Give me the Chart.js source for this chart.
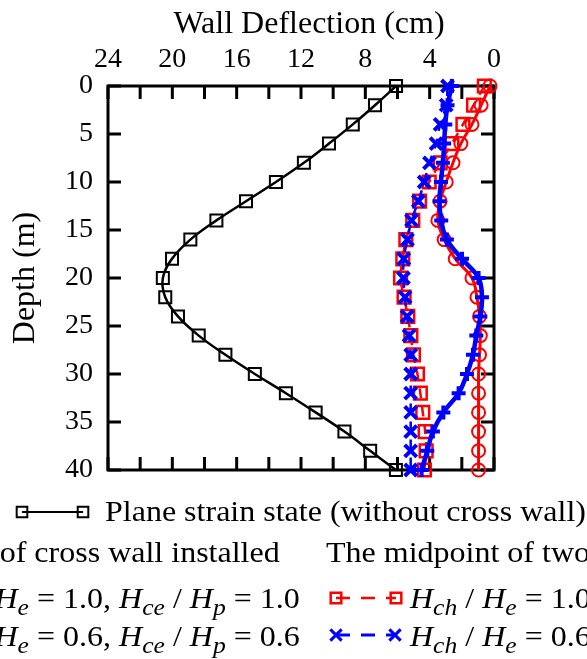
<!DOCTYPE html>
<html><head><meta charset="utf-8">
<script src="https://cdn.jsdelivr.net/npm/chart.js@4/dist/chart.umd.min.js"></script>
<style>
html,body{margin:0;padding:0;background:#fff;overflow:hidden;}
#wrap{position:relative;width:587px;height:659px;overflow:hidden;background:#fff;}
canvas{position:absolute;left:0;top:0;}
.leg{position:absolute;font-family:'Liberation Serif','Times New Roman',serif;font-size:30px;line-height:30px;white-space:nowrap;color:#000;transform:scaleX(1.067);transform-origin:left center;}
.leg.r{transform-origin:right center;}
.leg i{font-style:italic;}
.leg sub{font-size:0.8em;vertical-align:-0.3em;line-height:0;}
</style></head><body>
<div id="wrap">
<canvas id="c" width="587" height="659" style="width:587px;height:659px"></canvas>
<div class="leg" style="left:105px;top:496px;">Plane strain state (without cross wall)</div>
<div class="leg r" style="right:307px;top:537px;">The location of cross wall installed</div>
<div class="leg" style="left:326px;top:537px;">The midpoint of two cross walls</div>
<div class="leg r" style="right:287px;top:583px;"><i>H</i><sub><i>ch</i></sub> / <i>H</i><sub><i>e</i></sub> = 1.0, <i>H</i><sub><i>ce</i></sub> / <i>H</i><sub><i>p</i></sub> = 1.0</div>
<div class="leg" style="left:410px;top:583px;"><i>H</i><sub><i>ch</i></sub> / <i>H</i><sub><i>e</i></sub> = 1.0, <i>H</i><sub><i>ce</i></sub> / <i>H</i><sub><i>p</i></sub> = 1.0</div>
<div class="leg r" style="right:287px;top:621px;"><i>H</i><sub><i>ch</i></sub> / <i>H</i><sub><i>e</i></sub> = 0.6, <i>H</i><sub><i>ce</i></sub> / <i>H</i><sub><i>p</i></sub> = 0.6</div>
<div class="leg" style="left:410px;top:621px;"><i>H</i><sub><i>ch</i></sub> / <i>H</i><sub><i>e</i></sub> = 0.6, <i>H</i><sub><i>ce</i></sub> / <i>H</i><sub><i>p</i></sub> = 0.6</div>
</div>
<script>
// ---- data ----
const depth = [0,2,4,6,8,10,12,14,16,18,20,22,24,26,28,30,32,34,36,38,40];
const planeStrain = [6.09,7.4,8.78,10.26,11.82,13.56,15.42,17.26,18.88,20.02,20.59,20.44,19.65,18.36,16.70,14.87,12.94,11.09,9.3,7.7,6.1];
const locH10 = [0.25,0.8,1.37,2.06,2.55,2.97,3.35,3.49,3.1,2.41,1.37,1.06,0.9,0.85,0.9,0.96,0.96,0.96,0.96,0.96,0.96];
const locH06 = [2.62,2.89,3.03,3.1,3.18,3.3,3.39,3.28,2.93,1.99,0.96,0.75,0.85,1.1,1.31,1.68,2.2,3.15,3.8,4.15,4.5];
const midH10 = [0.6,1.27,1.93,2.62,3.35,4.03,4.63,5.05,5.48,5.67,5.81,5.59,5.36,5.17,5.01,4.76,4.58,4.43,4.28,4.22,4.33];
const midH06 = [2.89,2.97,3.35,3.6,4.01,4.34,4.7,5.13,5.38,5.61,5.63,5.53,5.4,5.28,5.18,5.18,5.18,5.18,5.18,5.18,5.18];
const xTickLabels = [0,4,8,12,16,20,24];
const yTickLabels = [0,5,10,15,20,25,30,35,40];
const xMinorTicks = [0,2,4,6,8,10,12,14,16,18,20,22,24];

const pts = arr => arr.map((v,i)=>({x:v, y:depth[i]}));
const FONT = "'Liberation Serif','Times New Roman',serif";
const TICK = 13;

const framePlugin = {
  id:'frame',
  beforeDatasetsDraw(chart){
    const {ctx, chartArea:a, scales:{x,y}} = chart;
    ctx.save();
    ctx.strokeStyle='#000'; ctx.lineWidth=3; ctx.lineCap='butt';
    ctx.strokeRect(a.left, a.top, a.right-a.left, a.bottom-a.top);
    ctx.beginPath();
    xMinorTicks.forEach(v=>{const p=x.getPixelForValue(v); ctx.moveTo(p,a.top); ctx.lineTo(p,a.top+TICK); ctx.moveTo(p,a.bottom); ctx.lineTo(p,a.bottom-TICK);});
    yTickLabels.forEach(v=>{const p=y.getPixelForValue(v); ctx.moveTo(a.left,p); ctx.lineTo(a.left+TICK,p); ctx.moveTo(a.right,p); ctx.lineTo(a.right-TICK,p);});
    ctx.stroke();
    ctx.restore();
  },
  afterDraw(chart){
    const ctx = chart.ctx;
    const sym = (x0,x1,yy,color,lw,dash,style,r,mlw)=>{
      ctx.save();
      ctx.strokeStyle=color; ctx.lineWidth=lw; ctx.setLineDash(dash);
      ctx.beginPath(); ctx.moveTo(x0,yy); ctx.lineTo(x1,yy); ctx.stroke();
      ctx.setLineDash([]);
      [x0,x1].forEach(px=>{
        Chart.helpers.drawPoint(ctx,{pointStyle:style,radius:r,borderWidth:mlw,rotation:0},px,yy);
      });
      ctx.restore();
    };
    ctx.save();
    ctx.fillStyle='rgba(0,0,0,0)';
    sym(22,83,512,'#000',2,[], 'rect',7.5,1.5);
    sym(336,396,598,'#f00',2.5,[14,11],'rect',7.5,2);
    sym(336,395,635,'#00f',3,[14,11],'crossRot',8,4);
    ctx.restore();
  }
};

Chart.defaults.font.family = FONT;
Chart.defaults.color = '#000';

new Chart(document.getElementById('c'), {
  type:'scatter',
  data:{datasets:[
    {label:'Plane strain state (without cross wall)', data:pts(planeStrain), showLine:true, borderColor:'#000', borderWidth:2.5, tension:0.4,
     pointStyle:'rect', pointRadius:8.5, pointBorderWidth:2, pointBorderColor:'#000', pointBackgroundColor:'rgba(0,0,0,0)', clip:false},
    {label:'Location Hch/He=0.6', data:pts(locH06), showLine:true, borderColor:'#00f', borderWidth:4.5, tension:0.4,
     pointStyle:'cross', pointRadius:7, pointBorderWidth:4, pointBorderColor:'#00f', pointBackgroundColor:'rgba(0,0,0,0)', clip:false},
    {label:'Midpoint Hch/He=0.6', data:pts(midH06), showLine:true, borderColor:'#00f', borderWidth:2.5, borderDash:[10,8], tension:0.4,
     pointStyle:'crossRot', pointRadius:8.5, pointBorderWidth:4, pointBorderColor:'#00f', pointBackgroundColor:'rgba(0,0,0,0)', clip:false},
    {label:'Location Hch/He=1.0', data:pts(locH10), showLine:true, borderColor:'#f00', borderWidth:3, tension:0.4,
     pointStyle:'circle', pointRadius:6.5, pointBorderWidth:2, pointBorderColor:'#f00', pointBackgroundColor:'rgba(0,0,0,0)', clip:false},
    {label:'Midpoint Hch/He=1.0', data:pts(midH10), showLine:true, borderColor:'#f00', borderWidth:2.5, borderDash:[10,8], tension:0.4,
     pointStyle:'rect', pointRadius:9, pointBorderWidth:2.5, pointBorderColor:'#f00', pointBackgroundColor:'rgba(0,0,0,0)', clip:false}
  ]},
  options:{
    responsive:false, animation:false,
    layout:{padding:{left:0,top:0,right:93,bottom:189}},
    plugins:{legend:{display:false}, tooltip:{enabled:false}},
    scales:{
      x:{type:'linear', position:'top', reverse:true, min:0, max:24,
         afterBuildTicks:s=>{s.ticks = xTickLabels.map(v=>({value:v}));},
         afterFit:s=>{s.height=86;},
         grid:{display:false, drawTicks:false}, border:{display:false},
         ticks:{font:{size:28}, color:'#000', padding:10, maxRotation:0, autoSkip:false},
         title:{display:true, text:'\u2007Wall Deflection (cm)', font:{size:32}, color:'#000', padding:{top:5,bottom:0}}},
      y:{type:'linear', position:'left', reverse:true, min:0, max:40,
         afterBuildTicks:s=>{s.ticks = yTickLabels.map(v=>({value:v}));},
         afterFit:s=>{s.width=108;},
         grid:{display:false, drawTicks:false}, border:{display:false},
         ticks:{font:{size:28}, color:'#000', padding:15, autoSkip:false},
         title:{display:true, text:'Depth (m)', font:{size:32}, color:'#000', padding:{top:6,bottom:0}}}
    }
  },
  plugins:[framePlugin]
});
</script>
</body></html>
